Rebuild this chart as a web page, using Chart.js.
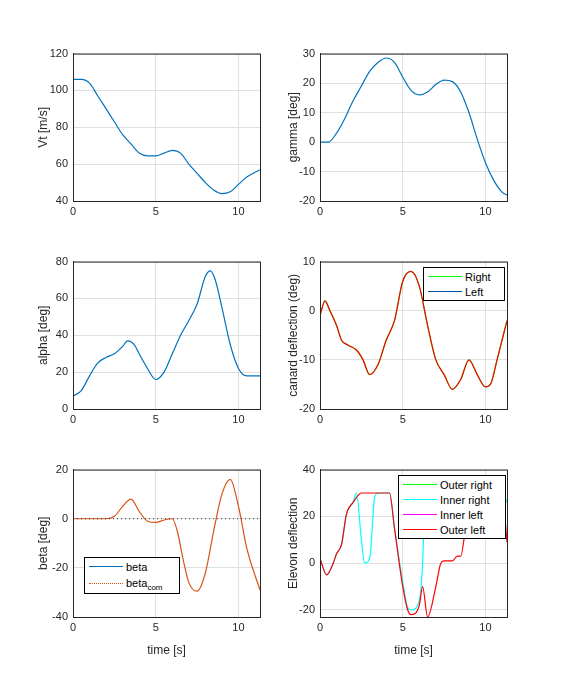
<!DOCTYPE html>
<html><head>
<script src="https://cdn.jsdelivr.net/npm/chart.js@4"></script>
<style>
body{margin:0;background:#fff;width:561px;height:693px;position:relative;font-family:"Liberation Sans",Arial,sans-serif;overflow:hidden}
canvas{position:absolute}
.lg{position:absolute;background:#fff;border:1px solid #000;font-size:11px;color:#000;padding:1px 4px}
.lg div{display:flex;align-items:center;height:15px}
.lg span.s{display:inline-block;width:34px;margin-right:3px;border-top:1px solid}
.lg sub{font-size:8px;position:relative;top:4px;vertical-align:baseline}
</style>
</head><body>
<canvas id="c1"></canvas><canvas id="c2"></canvas><canvas id="c3"></canvas>
<canvas id="c4"></canvas><canvas id="c5"></canvas><canvas id="c6"></canvas>
<div class="lg" style="left:423px;top:267px;width:72px">
 <div><span class="s" style="border-color:#00ff00"></span>Right</div>
 <div><span class="s" style="border-color:#0050a0"></span>Left</div>
</div>
<div class="lg" style="left:84px;top:557px;width:86px">
 <div><span class="s" style="border-color:#0072BD"></span>beta</div>
 <div style="height:18px"><span class="s" style="border-top:1px dotted #D95319"></span>beta<sub>com</sub></div>
</div>
<div class="lg" style="left:398px;top:475px;width:98px">
 <div><span class="s" style="border-color:#00ff00"></span>Outer right</div>
 <div><span class="s" style="border-color:#00ffff"></span>Inner right</div>
 <div><span class="s" style="border-color:#ff00ff"></span>Inner left</div>
 <div><span class="s" style="border-color:#ff0000"></span>Outer left</div>
</div>
<script>
const XMAX = 11.3;
const vtT = [0,0.5,1,1.5,2,2.5,3,3.5,4,4.5,5,5.5,6,6.5,7,7.5,8,8.5,9,9.5,10,10.5,11.3];
const vtV = [106,106,104,97,90,83,76,71,66,64.5,64.5,66,67.5,66,60,55,50,46,44,45,49,53,57];
const gamT = [0,0.5,1,1.5,2,2.5,3,3.5,4,4.5,5,5.5,6,6.5,7,7.5,8,8.5,9,9.5,10,10.5,11,11.3];
const gamV = [0,0,3,8,14,19,24,27,28.5,27,22,17.5,16,17,19.5,21,20.5,17,10,1,-7,-13,-17,-18];
const alT = [0,0.5,1,1.5,2,2.5,3,3.3,3.7,4,4.5,5,5.5,6,6.5,7,7.5,8,8.3,8.6,9,9.5,10,10.5,11.3];
const alV = [7,10,18,25,28,30,34,37,35,30,22,16,20,30,40,48,57,72,75,70,55,35,22,18,18];
const caT = [0,0.3,0.6,1,1.3,1.7,2.2,2.6,3,3.5,4,4.5,5,5.5,6,6.5,7,7.5,8,8.5,9,9.5,10,10.3,10.7,11.3];
const caV = [-1,2,0,-3,-6,-7,-8,-10,-13,-11,-6,-2,6,8,5,-3,-10,-13,-16,-14,-10,-13,-15.5,-15,-10,-2];
const beT = [0,1,2,2.5,3,3.5,4,4.5,5,5.5,6,6.3,6.7,7,7.5,8,8.5,9,9.5,10,10.5,11.3];
const beV = [0,0,0,1,5,8,3,-1,-1.5,-0.5,0,-5,-18,-26,-29.5,-22,-5,10,16,5,-12,-29];
const elT = [0,0.4,0.8,1,1.3,1.6,2,2.5,3,3.5,4,4.2,4.5,5,5.3,5.5,6,6.2,6.5,7,7.3,7.5,8,8.3,8.5,8.8,9.2,11,11.3];
const elOuterLeft = [2,-5,0,4,8,21,26,30,30,30,30,30,15,-10,-20,-22,-18,-10,-23,-10,0,1,1,3,3,15,30,30,9];
const eiT = [0,0.4,0.8,1,1.3,1.6,2,2.2,2.5,2.7,3,3.3,3.5,4,4.2,4.5,5,5.3,5.5,6,6.2,6.3,6.5,9,11,11.3];
const elInnerRight = [2,-5,0,4,8,21,26,30,10,0,2,28,30,30,30,15,-8,-19,-20,-16,0,20,30,30,30,26];
const zip = (t, v) => t.map((x, i) => ({x, y: v[i]}));

const box = {id:'box', afterDraw(c){const a=c.chartArea,x=c.ctx;x.save();x.strokeStyle='#262626';x.lineWidth=1;x.strokeRect(a.left+0.5,a.top+0.5,a.right-a.left,a.bottom-a.top);x.restore();}};
function mk(id, col, top, ymin, ymax, ystep, ylabel, xlabel, datasets){
  const cv = document.getElementById(id);
  const L = col ? 282 : 32, W = col ? 279 : 248;
  const plotL = col ? 320 : 73, plotR = col ? 507 : 260;
  const H = 149 + 10 + 45;
  cv.style.left = L + 'px'; cv.style.top = (top - 10) + 'px';
  cv.width = W; cv.height = H; cv.style.width = W + 'px'; cv.style.height = H + 'px';
  const f = {family:'"Liberation Sans",Arial,sans-serif', size:11};
  new Chart(cv, {
    type:'line', data:{datasets},
    options:{responsive:false, animation:false, events:[],
      layout:{padding:{top:10, right:W-(plotR-L), left:0, bottom:0}},
      plugins:{legend:{display:false}, tooltip:{enabled:false}},
      elements:{point:{radius:0}, line:{borderWidth:1.2, tension:0.4, cubicInterpolationMode:'monotone'}},
      scales:{
        x:{type:'linear', min:0, max:XMAX,
          afterBuildTicks:s=>{s.ticks=[0,5,10].map(v=>({value:v}));},
          afterFit:s=>{s.height=45;},
          grid:{color:'#e0e0e0', drawTicks:false}, border:{color:'#262626'},
          ticks:{color:'#262626', font:f, padding:4, maxRotation:0},
          title:{display:!!xlabel, text:xlabel, color:'#262626', font:{...f,size:12}, padding:{top:0}}},
        y:{min:ymin, max:ymax,
          afterBuildTicks:s=>{const t=[];for(let v=Math.ceil(ymin/ystep)*ystep;v<=ymax;v+=ystep)t.push({value:v});s.ticks=t;},
          afterFit:s=>{s.width=plotL-L;},
          grid:{color:'#e0e0e0', drawTicks:false}, border:{color:'#262626'},
          ticks:{color:'#262626', font:f, padding:5},
          title:{display:true, text:ylabel, color:'#262626', font:{...f,size:12}, padding:{bottom:2}}}
      }},
    plugins:[box]
  });
}
const blue = '#0072BD', org = '#D95319';
mk('c1',0,52,40,120,20,'Vt [m/s]','',[{data:zip(vtT,vtV),borderColor:blue}]);
mk('c2',1,52,-20,30,10,'gamma [deg]','',[{data:zip(gamT,gamV),borderColor:blue}]);
mk('c3',0,260,0,80,20,'alpha [deg]','',[{data:zip(alT,alV),borderColor:blue}]);
mk('c4',1,260,-20,10,10,'canard deflection (deg)','',[
  {data:zip(caT,caV),borderColor:'#ff0000',order:0},
  {data:zip(caT,caV),borderColor:'#00ff00',order:1}]);
mk('c5',0,468,-40,20,20,'beta [deg]','time [s]',[
  {data:zip(beT,beV),borderColor:org,order:1},
  {data:[{x:0,y:0},{x:XMAX,y:0}],borderColor:'#333',borderDash:[1,3],borderWidth:1,tension:0,order:0}]);
mk('c6',1,468,-23,40,20,'Elevon deflection','time [s]',[
  {data:zip(elT,elOuterLeft),borderColor:'#ff0000',order:0},
  {data:zip(eiT,elInnerRight),borderColor:'#00ffff',order:1}]);
</script>
</body></html>
